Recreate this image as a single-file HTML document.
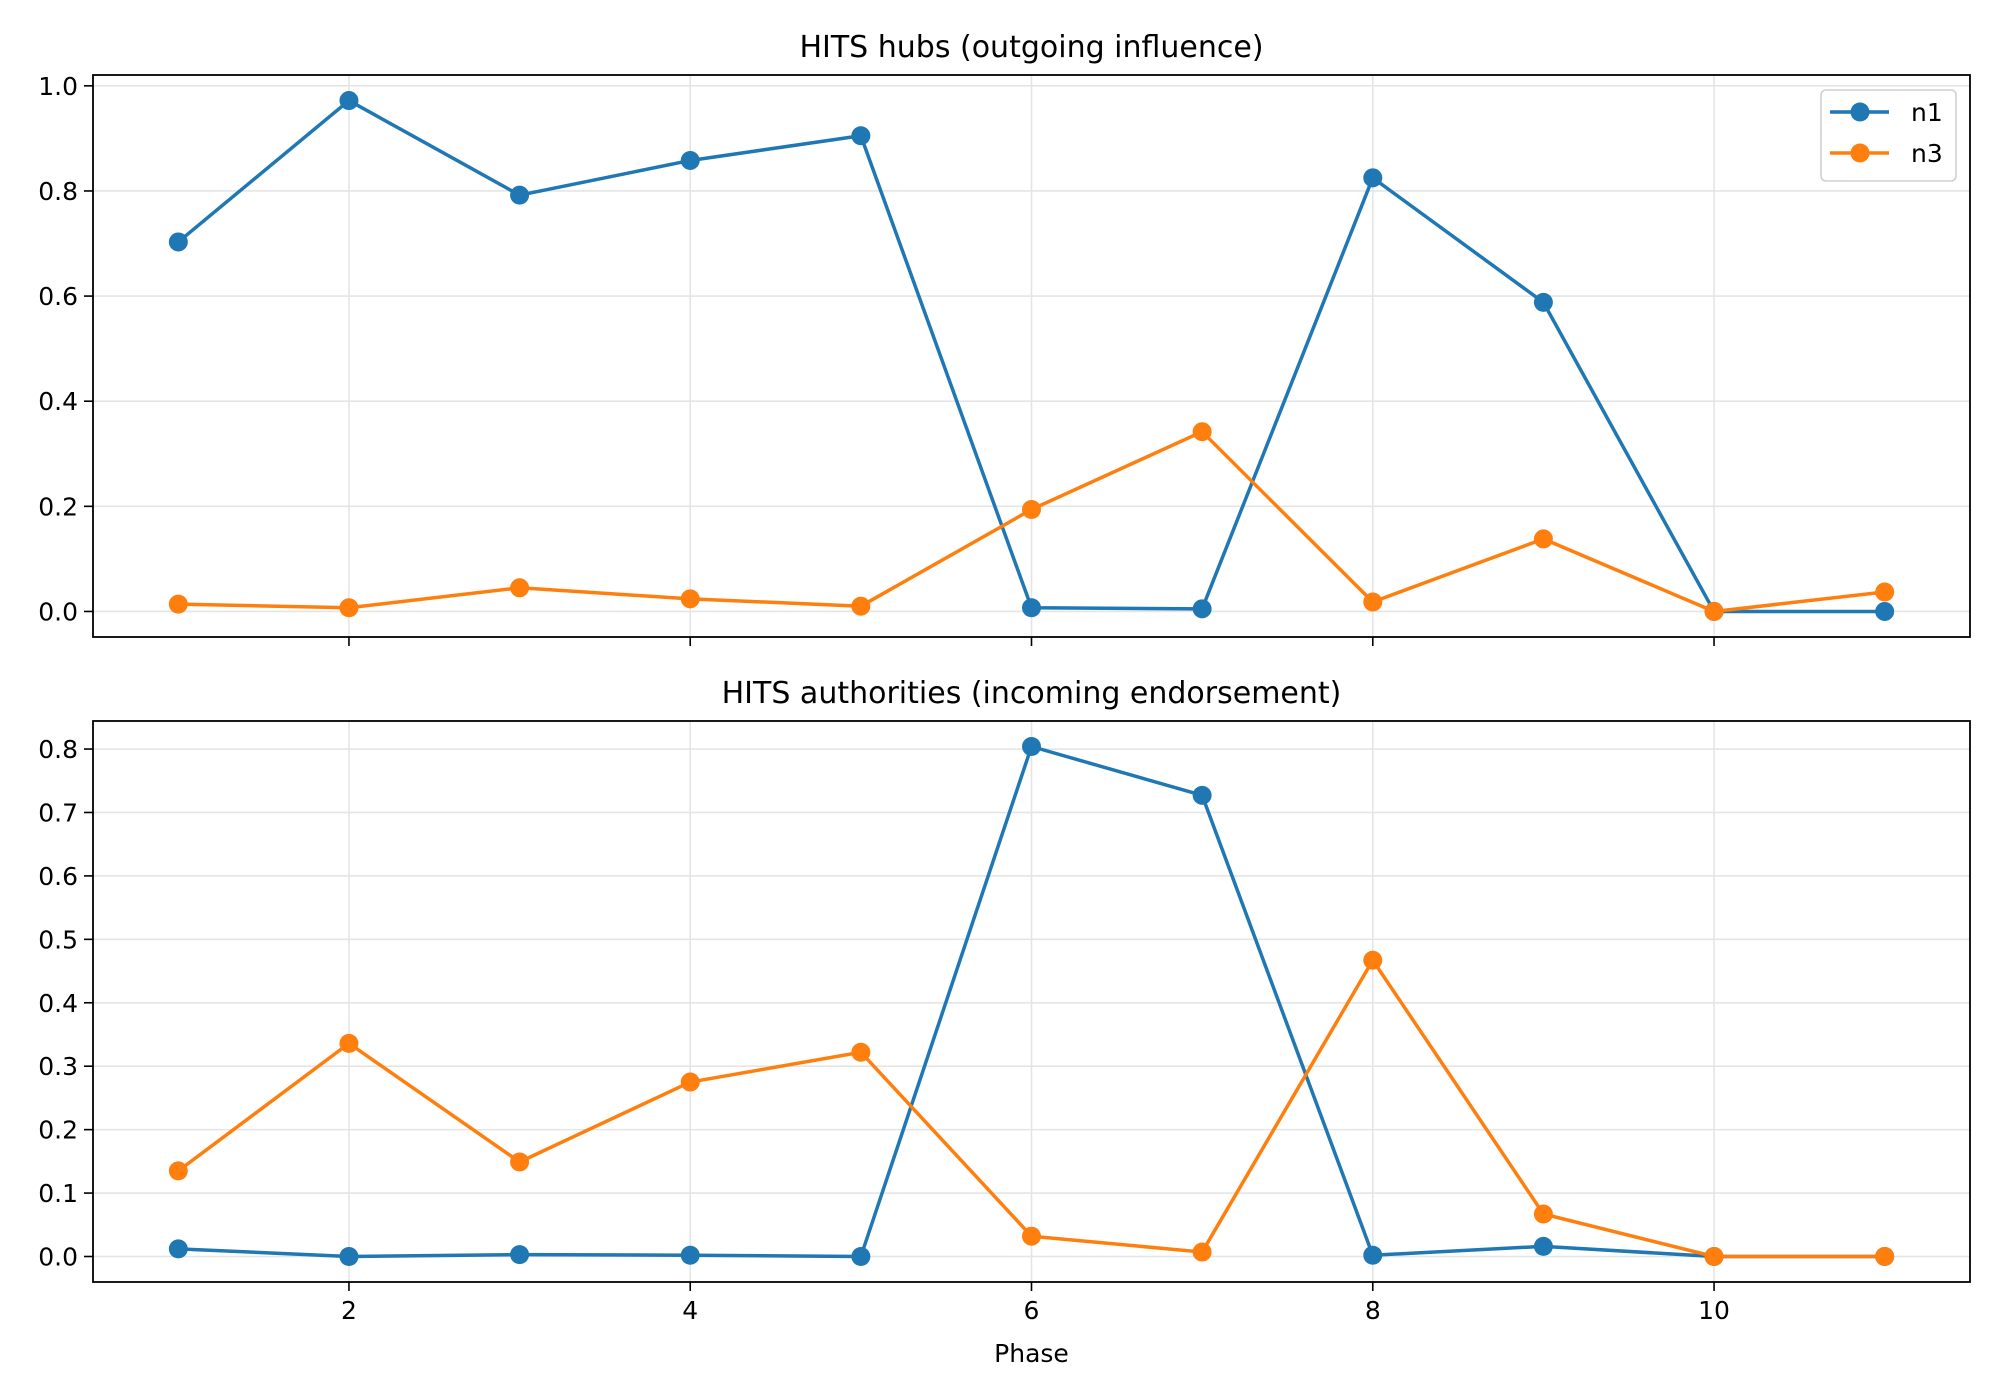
<!DOCTYPE html>
<html><head><meta charset="utf-8">
<style>
html,body{margin:0;padding:0;background:#fff;}
svg{display:block;font-family:"DejaVu Sans","Liberation Sans",sans-serif;}
</style></head>
<body>
<svg id="chart" width="2000" height="1400" viewBox="0 0 2000 1400" xmlns="http://www.w3.org/2000/svg"></svg>
<script>
const phases = [1,2,3,4,5,6,7,8,9,10,11];
const hubsN1 = [0.703,0.972,0.792,0.858,0.905,0.007,0.005,0.825,0.588,0.0,0.0];
const hubsN3 = [0.014,0.007,0.045,0.024,0.010,0.194,0.342,0.018,0.138,0.0,0.037];
const authN1 = [0.012,0.0,0.003,0.002,0.0,0.804,0.727,0.002,0.016,0.0,0.0];
const authN3 = [0.135,0.336,0.149,0.275,0.322,0.032,0.007,0.467,0.067,0.0,0.0];
const xTicks = [2,4,6,8,10];
const hubsYTicks = [0.0,0.2,0.4,0.6,0.8,1.0];
const authYTicks = [0.0,0.1,0.2,0.3,0.4,0.5,0.6,0.7,0.8];
const seriesNames = ["n1","n3"];

const NS="http://www.w3.org/2000/svg";
const svg=document.getElementById('chart');
const C1="#1f77b4", C2="#ff7f0e";
const L=93, R=1970;
function el(tag,attrs,parent){const e=document.createElementNS(NS,tag);for(const k in attrs)e.setAttribute(k,attrs[k]);(parent||svg).appendChild(e);return e;}
const xmin=0.5,xmax=11.5;
function xs(v){return L+(v-xmin)/(xmax-xmin)*(R-L);}

function panel(name,top,bottom,s1,s2,yticks,title,showXLabels){
  const g=el('g',{});
  
  
  const all=s1.concat(s2);
  const dmin=Math.min(...all),dmax=Math.max(...all),m=(dmax-dmin)*0.05;
  const ymin=dmin-m,ymax=dmax+m;
  const ys=v=>bottom-(v-ymin)/(ymax-ymin)*(bottom-top);
  xTicks.forEach(t=>{const l=el('line',{x1:xs(t),x2:xs(t),y1:top,y2:bottom,stroke:"#e5e5e5","stroke-width":1.6},g);
    });
  yticks.forEach(t=>{const l=el('line',{x1:L,x2:R,y1:ys(t),y2:ys(t),stroke:"#e5e5e5","stroke-width":1.6},g);
    });
  [[s1,C1,seriesNames[0]],[s2,C2,seriesNames[1]]].forEach(([s,c,n])=>{
    const pts=s.map((v,i)=>xs(phases[i])+","+ys(v)).join(" ");
    const pl=el('polyline',{points:pts,fill:"none",stroke:c,"stroke-width":3.5,"stroke-linejoin":"round"},g);
    
    s.forEach((v,i)=>{const p=el('circle',{cx:xs(phases[i]),cy:ys(v),r:9.5,fill:c},g);
      });
  });
  const f=el('rect',{x:L,y:top,width:R-L,height:bottom-top,fill:"none",stroke:"#000","stroke-width":1.8},g);
  
  yticks.forEach(t=>{
    el('line',{x1:L-9,x2:L,y1:ys(t),y2:ys(t),stroke:"#000","stroke-width":1.6},g);
    const tx=el('text',{x:L-15,y:ys(t)+9,"text-anchor":"end","font-size":25},g);
    
    tx.textContent=t.toFixed(1);
  });
  xTicks.forEach(t=>{
    el('line',{x1:xs(t),x2:xs(t),y1:bottom,y2:bottom+9,stroke:"#000","stroke-width":1.6},g);
    if(showXLabels){const tx=el('text',{x:xs(t),y:bottom+37,"text-anchor":"middle","font-size":25},g);
      
      tx.textContent=t;}
  });
  const ti=el('text',{x:(L+R)/2,y:top-18,"text-anchor":"middle","font-size":30},g);
  
  ti.textContent=title;
}
panel('hubs',75,637,hubsN1,hubsN3,hubsYTicks,"HITS hubs (outgoing influence)",false);
panel('authorities',721,1282,authN1,authN3,authYTicks,"HITS authorities (incoming endorsement)",true);

const xl=el('text',{x:(L+R)/2,y:1362,"text-anchor":"middle","font-size":25});

xl.textContent="Phase";

const lg=el('g',{});

el('rect',{x:1821,y:90,width:135,height:91,rx:5,fill:"#fff","fill-opacity":0.8,stroke:"#d0d0d0","stroke-width":1.6},lg);
[[C1,seriesNames[0],112],[C2,seriesNames[1],153]].forEach(([c,n,y])=>{
  const e=el('g',{},lg);
  
  el('line',{x1:1830,x2:1889,y1:y,y2:y,stroke:c,"stroke-width":3.5},e);
  el('circle',{cx:1860,cy:y,r:9.5,fill:c},e);
  const t=el('text',{x:1911,y:y+9,"font-size":25},e);t.textContent=n;
});
</script>
</body></html>
